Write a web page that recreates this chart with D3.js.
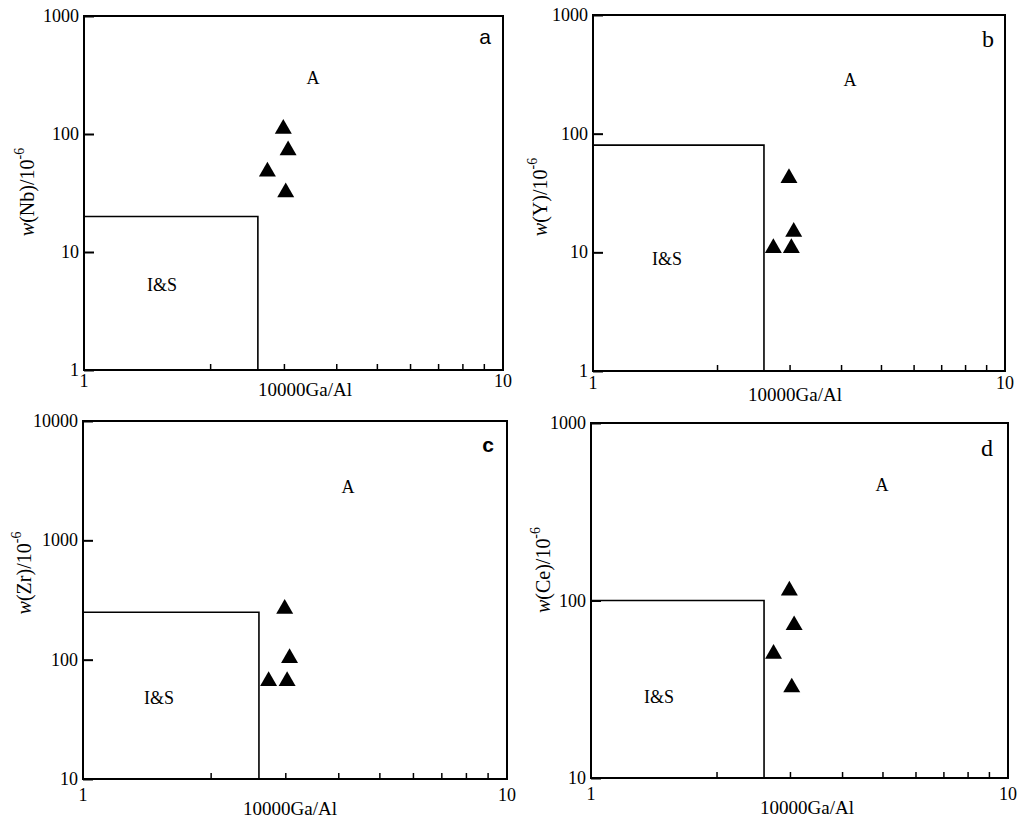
<!DOCTYPE html>
<html><head><meta charset="utf-8">
<script src="https://cdn.jsdelivr.net/npm/d3@7"></script>
<style>body{margin:0;background:#fff}</style>
</head><body>
<svg id="chart" width="1021" height="818"></svg>
<script>
// ---- data ----
const gaAl = [2.99, 3.07, 2.74, 3.03];          // 10000Ga/Al of the four samples
const nb = [114, 75, 49.5, 33];
const yv = [43.5, 15.3, 11.2, 11.2];
const zr = [274, 106, 68, 68];
const ce = [116, 74, 51, 33];
const elements = ["Nb", "Y", "Zr", "Ce"];
const panelLetters = ["a", "b", "c", "d"];
const isGaAlLimit = 2.6;                          // I&S field upper Ga/Al
const isElemLimit = [20, 80, 250, 100];           // I&S field upper element value
const yDomains = [[1, 1000], [1, 1000], [10, 10000], [10, 1000]];
const yTickValues = [[1, 10, 100, 1000], [1, 10, 100, 1000], [10, 100, 1000, 10000], [10, 100, 1000]];
const xTickLabels = [1, 10];
const xMinorTicks = [2, 3, 4, 5, 6, 7, 8, 9];
const seriesValues = [nb, yv, zr, ce];

// ---- layout ----
const layout = [
  {l: 84, r: 503, t: 16, b: 370, A: [229, 62], IS: [78, 269], lab: [401, 20], labFont: "Liberation Sans", labSize: 21, labW: "normal", tickDy: 17, xtX: 221, xtDy: 26, ytX: 27, ytY: 192},
  {l: 593, r: 1005, t: 15, b: 371, A: [257, 65], IS: [74, 244], lab: [395, 24], labFont: "Liberation Serif", labSize: 24, labW: "normal", tickDy: 18, xtX: 202, xtDy: 30, ytX: 540, ytY: 197},
  {l: 83, r: 507, t: 421, b: 779, A: [265, 66], IS: [76, 277], lab: [405, 23], labFont: "Liberation Sans", labSize: 21, labW: "bold", tickDy: 22, xtX: 207, xtDy: 36, ytX: 24, ytY: 573},
  {l: 591, r: 1008, t: 423, b: 778, A: [291, 62], IS: [68, 274], lab: [396, 25], labFont: "Liberation Serif", labSize: 24, labW: "normal", tickDy: 22, xtX: 216, xtDy: 36, ytX: 543, ytY: 570}
];

const svg = d3.select("#chart");
const serif = "Liberation Serif";

layout.forEach((L, i) => {
  const g = svg.append("g");
  const x = d3.scaleLog().domain([1, 10]).range([L.l, L.r]);
  const y = d3.scaleLog().domain(yDomains[i]).range([L.b, L.t]);

  // I&S field
  g.append("path")
    .attr("d", d3.line()([[x(1), y(isElemLimit[i])], [x(isGaAlLimit), y(isElemLimit[i])], [x(isGaAlLimit), y(yDomains[i][0])]]))
    .attr("fill", "none").attr("stroke", "#000").attr("stroke-width", 1.6);

  // frame
  g.append("rect").attr("x", L.l).attr("y", L.t).attr("width", L.r - L.l).attr("height", L.b - L.t)
    .attr("fill", "none").attr("stroke", "#000").attr("stroke-width", 2);

  // y axis ticks (inward) and labels
  const yAxis = d3.axisRight(y).tickValues(yTickValues[i]).tickSize(10).tickFormat("");
  g.append("g").attr("transform", `translate(${L.l},0)`).call(yAxis)
    .call(s => { s.select(".domain").remove(); s.selectAll("line").attr("stroke-width", 2); });
  g.selectAll(".ylab").data(yTickValues[i]).enter().append("text")
    .attr("x", L.l - 5).attr("y", d => y(d)).attr("text-anchor", "end").attr("dominant-baseline", "central")
    .attr("font-family", serif).attr("font-size", 18).text(d => d);

  // x minor ticks (inward)
  const xAxis = d3.axisTop(x).tickValues(xMinorTicks).tickSize(6).tickFormat("");
  g.append("g").attr("transform", `translate(0,${L.b})`).call(xAxis)
    .call(s => { s.select(".domain").remove(); s.selectAll("line").attr("stroke-width", 1.5); });
  g.selectAll(".xlab").data(xTickLabels).enter().append("text")
    .attr("x", d => x(d)).attr("y", L.b + L.tickDy).attr("text-anchor", "middle")
    .attr("font-family", serif).attr("font-size", 18).text(d => d);

  // x title
  g.append("text").attr("x", L.l + L.xtX).attr("y", L.b + L.xtDy).attr("text-anchor", "middle")
    .attr("font-family", serif).attr("font-size", 19).text("10000Ga/Al");

  // y title
  const yt = g.append("text").attr("transform", `translate(${L.ytX},${L.ytY}) rotate(-90)`)
    .attr("text-anchor", "middle").attr("dominant-baseline", "central")
    .attr("font-family", serif).attr("font-size", 20);
  yt.append("tspan").attr("font-style", "italic").text("w");
  yt.append("tspan").text(`(${elements[i]})/10`);
  yt.append("tspan").attr("font-size", 14).attr("dy", -8).text("-6");

  // field labels
  g.append("text").attr("x", L.l + L.A[0]).attr("y", L.t + L.A[1]).attr("text-anchor", "middle").attr("dominant-baseline", "central")
    .attr("font-family", serif).attr("font-size", 18).text("A");
  g.append("text").attr("x", L.l + L.IS[0]).attr("y", L.t + L.IS[1]).attr("text-anchor", "middle").attr("dominant-baseline", "central")
    .attr("font-family", serif).attr("font-size", 18).text("I&S");
  g.append("text").attr("x", L.l + L.lab[0]).attr("y", L.t + L.lab[1]).attr("text-anchor", "middle").attr("dominant-baseline", "central")
    .attr("font-family", L.labFont).attr("font-size", L.labSize).attr("font-weight", L.labW).text(panelLetters[i]);

  // sample triangles
  const tri = d3.symbol().type(d3.symbolTriangle).size(125);
  g.selectAll(".pt").data(gaAl.map((gv, k) => [gv, seriesValues[i][k]])).enter().append("path")
    .attr("d", tri).attr("transform", d => `translate(${x(d[0])},${y(d[1]) + 1.5})`).attr("fill", "#000");
});
</script>
</body></html>
